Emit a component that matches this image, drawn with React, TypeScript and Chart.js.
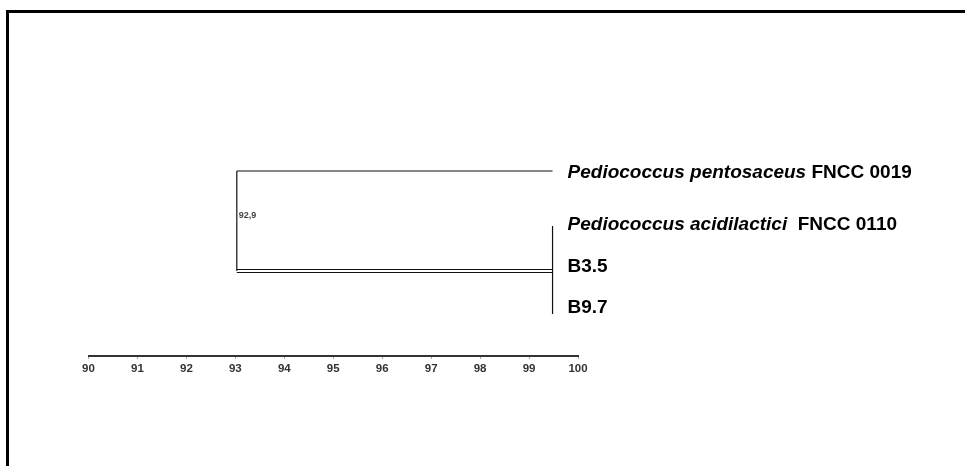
import React, { useEffect, useRef } from "react";
import { Chart, registerables } from "chart.js";

Chart.register(...registerables);

// Similarity scale (%)
const axisMin = 90;
const axisMax = 100;
const axisTicks = [90, 91, 92, 93, 94, 95, 96, 97, 98, 99, 100];

// Dendrogram structure
const leafNames = [
  ["Pediococcus pentosaceus", " FNCC 0019"],
  ["Pediococcus acidilactici", "  FNCC 0110"],
  ["", "B3.5"],
  ["", "B9.7"],
];
const leafRows = [8.5, 34.5, 55.5, 76]; // vertical positions of leaf labels
const mergeSimilarity = 93.03; // node joining the two clusters
const clusterSimilarity = 99.48; // level of the three-leaf cluster
const topBranchRow = 7.5;
const lowerBranchRow = 57.5;
const clusterSpan = [35, 79];
const nodeLabel = "92,9";
const nodeLabelRow = 30;

export default function App() {
  const ref = useRef<HTMLCanvasElement | null>(null);

  useEffect(() => {
    if (!ref.current) return;
    const seg = (pts: { x: number; y: number }[], w = 1.2) => ({
      type: "line" as const,
      data: pts,
      borderColor: "#111",
      borderWidth: w,
      pointRadius: 0,
      showLine: true,
      fill: false,
      tension: 0,
    });

    const labelPlugin = {
      id: "dendroLabels",
      afterDatasetsDraw(chart: any) {
        const { ctx, scales } = chart;
        const xs = scales.x;
        const ys = scales.y;
        ctx.save();
        ctx.fillStyle = "#000";
        ctx.textBaseline = "middle";
        ctx.textAlign = "left";
        const lx = xs.getPixelForValue(clusterSimilarity) + 15;
        leafNames.forEach((parts, i) => {
          const y = ys.getPixelForValue(leafRows[i]);
          let x = lx;
          if (parts[0]) {
            ctx.font = "italic bold 19px 'Liberation Sans', Arial, sans-serif";
            ctx.fillText(parts[0], x, y);
            x += ctx.measureText(parts[0]).width;
          }
          ctx.font = "bold 19px 'Liberation Sans', Arial, sans-serif";
          ctx.fillText(parts[1], x, y);
        });
        ctx.font = "bold 9px 'Liberation Sans', Arial, sans-serif";
        ctx.fillStyle = "#444";
        ctx.fillText(nodeLabel, xs.getPixelForValue(mergeSimilarity) + 2, ys.getPixelForValue(nodeLabelRow));
        ctx.restore();
      },
    };

    const chart = new Chart(ref.current, {
      type: "scatter",
      data: {
        datasets: [
          seg([
            { x: mergeSimilarity, y: topBranchRow },
            { x: clusterSimilarity, y: topBranchRow },
          ]),
          seg([
            { x: mergeSimilarity, y: topBranchRow },
            { x: mergeSimilarity, y: lowerBranchRow },
          ]),
          seg([
            { x: mergeSimilarity, y: lowerBranchRow - 0.75 },
            { x: clusterSimilarity, y: lowerBranchRow - 0.75 },
          ], 1),
          seg([
            { x: mergeSimilarity, y: lowerBranchRow + 0.75 },
            { x: clusterSimilarity, y: lowerBranchRow + 0.75 },
          ], 1),
          seg([
            { x: clusterSimilarity, y: clusterSpan[0] },
            { x: clusterSimilarity, y: clusterSpan[1] },
          ]),
        ],
      },
      options: {
        animation: false,
        responsive: false,
        devicePixelRatio: 1,
        layout: { padding: { left: 88.5, right: 387, top: 156, bottom: 90 } },
        plugins: { legend: { display: false }, tooltip: { enabled: false } },
        scales: {
          x: {
            type: "linear",
            min: axisMin,
            max: axisMax,
            afterBuildTicks: (s: any) => {
              s.ticks = axisTicks.map((v) => ({ value: v }));
            },
            afterFit: (s: any) => {
              s.height = 20;
            },
            grid: {
              drawOnChartArea: false,
              drawTicks: true,
              tickLength: 3,
              color: "#aaa",
            },
            border: { display: true, color: "#333", width: 2 },
            ticks: {
              padding: 3,
              color: "#333",
              font: { family: "'Liberation Sans', Arial, sans-serif", size: 11.5, weight: "bold" },
              callback: (v: any) => String(v),
            },
          },
          y: {
            type: "linear",
            display: false,
            reverse: true,
            min: 0,
            max: 100,
          },
        },
      },
      plugins: [labelPlugin],
    } as any);
    return () => chart.destroy();
  }, []);

  return (
    <div style={{ position: "fixed", left: 0, top: 0, width: 965, height: 466, background: "#fff" }}>
      <canvas ref={ref} width={965} height={466} style={{ position: "absolute", left: 0, top: 0 }} />
      <div
        style={{
          position: "absolute",
          left: 6,
          top: 10,
          width: 959,
          height: 456,
          borderTop: "3px solid #000",
          borderLeft: "3px solid #000",
          boxSizing: "border-box",
          pointerEvents: "none",
        }}
      />
    </div>
  );
}
